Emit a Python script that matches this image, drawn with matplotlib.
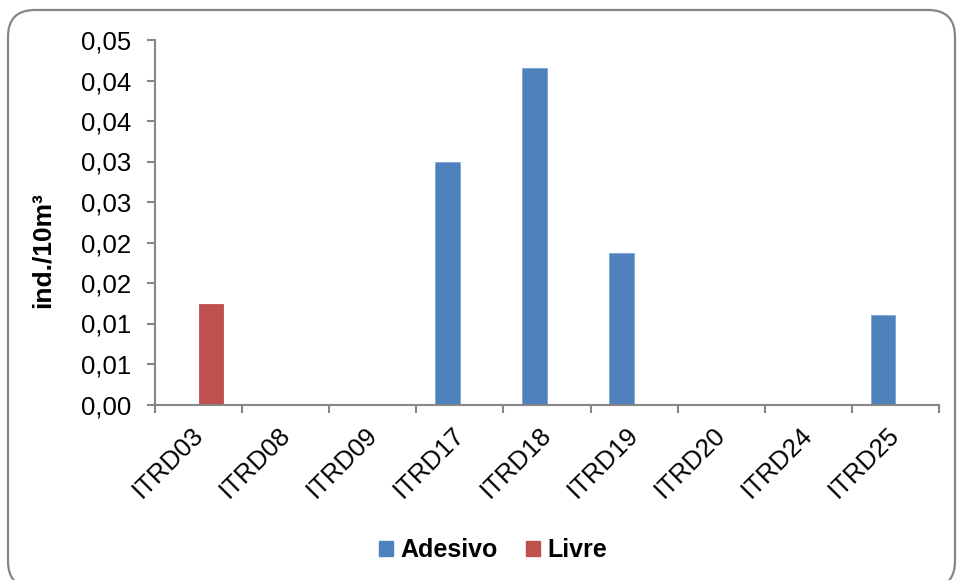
import numpy as np
import matplotlib
matplotlib.use("Agg")
import matplotlib.pyplot as plt
import matplotlib.transforms as mtransforms
from matplotlib.patches import FancyBboxPatch, Patch

plt.rcParams['font.family'] = ['Liberation Sans', 'DejaVu Sans']

# data
stations = ['ITRD03', 'ITRD08', 'ITRD09', 'ITRD17', 'ITRD18',
            'ITRD19', 'ITRD20', 'ITRD24', 'ITRD25']
adesivo = [0.0, 0.0, 0.0, 0.0300, 0.0415, 0.0187, 0.0, 0.0, 0.0110]
livre = [0.0124, 0.0, 0.0, 0.0, 0.0, 0.0, 0.0, 0.0, 0.0]
series_names = ['Adesivo', 'Livre']
y_ticks = [0.0, 0.005, 0.010, 0.015, 0.020, 0.025, 0.030, 0.035, 0.040, 0.045]
y_tick_labels = ['0,00', '0,01', '0,01', '0,02', '0,02',
                 '0,03', '0,03', '0,04', '0,04', '0,05']

BLUE = '#4F81BD'
RED = '#C0504D'
GREY = '#868686'

W, H = 957, 580
fig = plt.figure(figsize=(W / 100, H / 100), dpi=100)

# rounded chart frame (bottom edge runs past the canvas)
frame = FancyBboxPatch((8 / W, -8 / H), (947 / W), (578 / H),
                       boxstyle="round,pad=0,rounding_size=0.028",
                       transform=fig.transFigure, facecolor='none',
                       edgecolor=GREY, linewidth=1.6, mutation_aspect=W / H,
                       zorder=0)
fig.patches.append(frame)

ax = fig.add_axes([155 / W, 175.5 / H, (939 - 155) / W, (404.5 - 40) / H])
ax.set_facecolor('none')

x = np.arange(len(stations))
bw = 1 / 3.5
ax.bar(x - bw / 2, adesivo, bw, color=BLUE, edgecolor='#7FA3D3', linewidth=0.6)
ax.bar(x + bw / 2, livre, bw, color=RED, edgecolor='#C0504D', linewidth=0.6)

ax.set_xlim(-0.5, len(stations) - 0.5)
ax.set_ylim(0, 0.045)

for s in ['top', 'right']:
    ax.spines[s].set_visible(False)
for s in ['left', 'bottom']:
    ax.spines[s].set_color(GREY)
    ax.spines[s].set_linewidth(1.5)

ax.set_yticks(y_ticks)
ax.set_yticklabels(y_tick_labels, fontsize=18.5)
ax.tick_params(axis='y', length=6, width=1.5, color=GREY, pad=11)

ax.set_xticks(x)
ax.set_xticklabels(stations, fontsize=18.5)
ax.set_xticks(np.arange(-0.5, len(stations), 1.0), minor=True)
ax.tick_params(axis='x', which='major', length=0, pad=13)
ax.tick_params(axis='x', which='minor', length=6, width=1.5, color=GREY)
shift = mtransforms.ScaledTranslation(-8 / 100, 0, fig.dpi_scale_trans)
for lab in ax.get_xticklabels():
    lab.set_rotation(45)
    lab.set_ha('right')
    lab.set_va('top')
    lab.set_rotation_mode('anchor')
    lab.set_transform(lab.get_transform() + shift)

ax.set_ylabel('ind./10m³', fontsize=19, fontweight='bold')
ax.yaxis.set_label_coords(-100 / 784, 0.424)

handles = [Patch(color=BLUE), Patch(color=RED)]
fig.legend(handles, series_names, loc='center', ncol=2, frameon=False,
           bbox_to_anchor=(493 / W, 30 / H),
           prop={'size': 18, 'weight': 'bold'},
           handlelength=0.56, handleheight=0.56, handletextpad=0.3,
           columnspacing=1.1)

fig.savefig('out.png', dpi=100)
